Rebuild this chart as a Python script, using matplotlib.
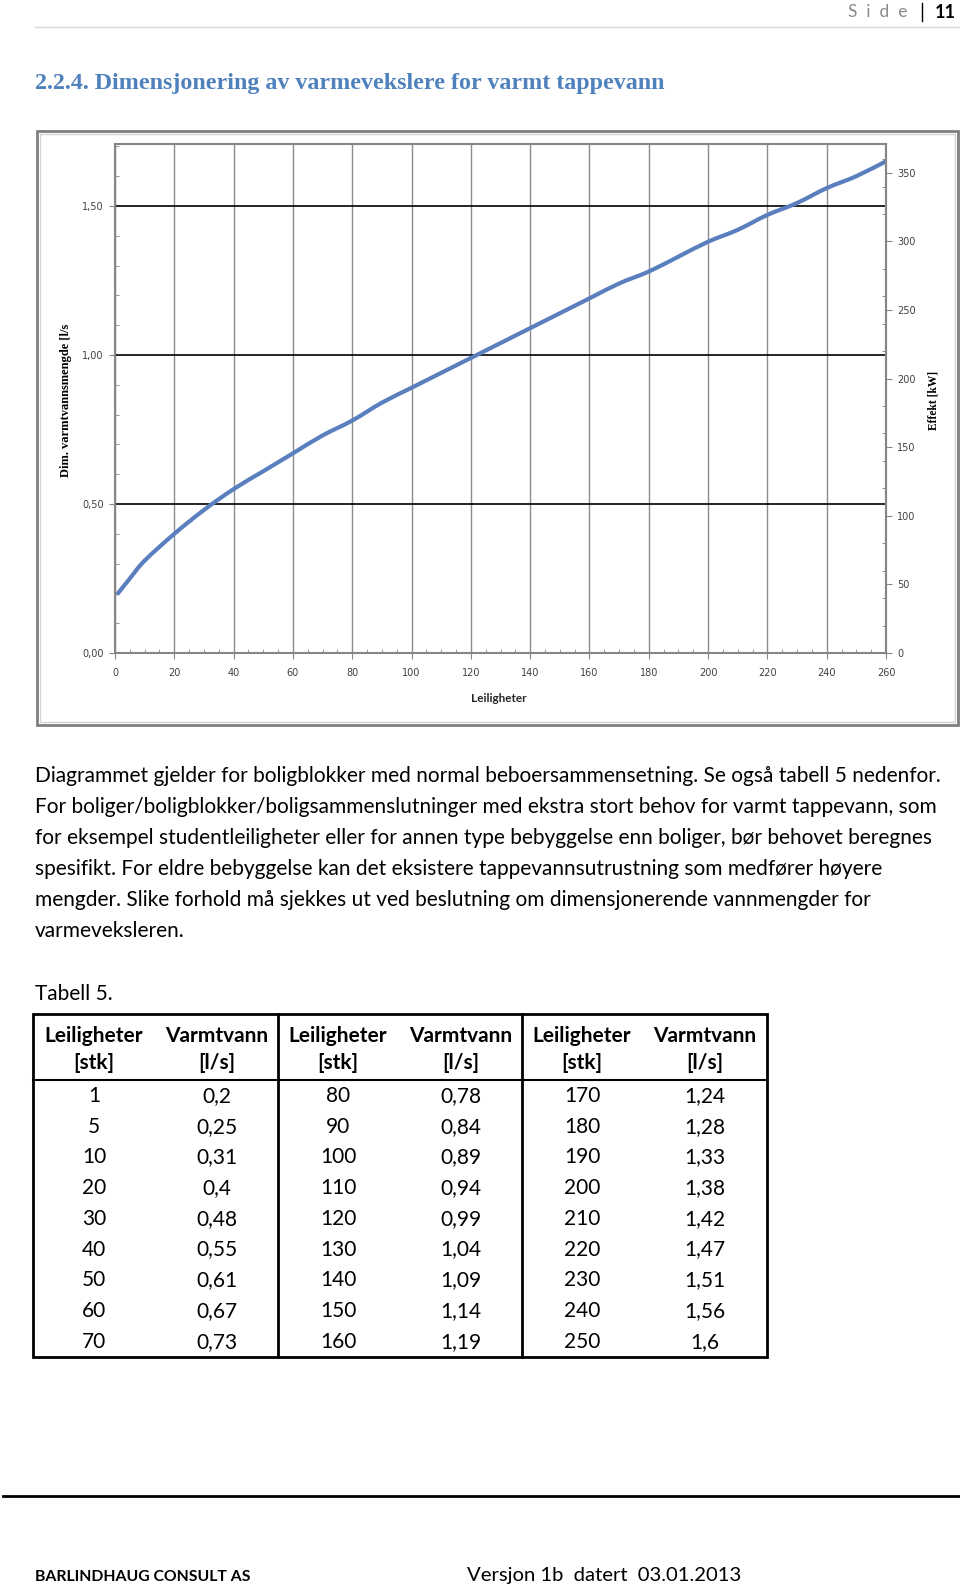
import matplotlib
matplotlib.use("Agg")
import matplotlib.pyplot as plt
from matplotlib.patches import Rectangle, PathPatch
from matplotlib.path import Path
from matplotlib.ticker import MultipleLocator, FuncFormatter

# data (Tabell 5) - chart curve follows the same values
leiligheter = [1, 5, 10, 20, 30, 40, 50, 60, 70,
               80, 90, 100, 110, 120, 130, 140, 150, 160,
               170, 180, 190, 200, 210, 220, 230, 240, 250]
varmtvann = [0.2, 0.25, 0.31, 0.4, 0.48, 0.55, 0.61, 0.67, 0.73,
             0.78, 0.84, 0.89, 0.94, 0.99, 1.04, 1.09, 1.14, 1.19,
             1.24, 1.28, 1.33, 1.38, 1.42, 1.47, 1.51, 1.56, 1.6]
# curve continues to the right edge of the plot
curve_x = leiligheter + [260]
curve_y = varmtvann + [1.65]

x_label = "Leiligheter"
y_label = "Dim. varmtvannsmengde [l/s"
y2_label = "Effekt [kW]"

title = "2.2.4. Dimensjonering av varmevekslere for varmt tappevann"
body = [
    "Diagrammet gjelder for boligblokker med normal beboersammensetning. Se også tabell 5 nedenfor.",
    "For boliger/boligblokker/boligsammenslutninger med ekstra stort behov for varmt tappevann, som",
    "for eksempel studentleiligheter eller for annen type bebyggelse enn boliger, bør behovet beregnes",
    "spesifikt. For eldre bebyggelse kan det eksistere tappevannsutrustning som medfører høyere",
    "mengder. Slike forhold må sjekkes ut ved beslutning om dimensjonerende vannmengder for",
    "varmeveksleren.",
]


def smooth_path(xs, ys):
    # Excel-style smoothed line: cubic bezier segments through the points
    pts = list(zip(xs, ys))
    verts = [pts[0]]
    codes = [Path.MOVETO]
    n = len(pts)
    for i in range(n - 1):
        p0 = pts[i - 1] if i > 0 else pts[i]
        p1 = pts[i]
        p2 = pts[i + 1]
        p3 = pts[i + 2] if i + 2 < n else pts[i + 1]
        c1 = (p1[0] + (p2[0] - p0[0]) / 6, p1[1] + (p2[1] - p0[1]) / 6)
        c2 = (p2[0] - (p3[0] - p1[0]) / 6, p2[1] - (p3[1] - p1[1]) / 6)
        verts += [c1, c2, p2]
        codes += [Path.CURVE4] * 3
    return Path(verts, codes)


W, H = 960, 1588
fig = plt.figure(figsize=(W / 100, H / 100), dpi=100)
fig.patch.set_facecolor("white")

# page overlay in pixel coordinates
page = fig.add_axes([0, 0, 1, 1])
page.set_xlim(0, W)
page.set_ylim(H, 0)
page.axis("off")

body_font = "Lato"
fs = 15
bl = 7  # baseline offset below the visual centre of a line


def line_text(x, y, s, **kw):
    kw.setdefault("fontsize", fs)
    kw.setdefault("family", body_font)
    page.text(x, y + bl, s, va="baseline", **kw)


# header
page.text(908, 12, "S  i  d  e", ha="right", va="center", fontsize=12.5,
          color="#8a8a8a", family=body_font)
page.plot([922, 922], [3, 21], color="black", lw=1)
page.text(945, 12, "11", ha="center", va="center", fontsize=13,
          fontweight="bold", family=body_font)
page.plot([35, 960], [27, 27], color="#d9d9d9", lw=1)

page.text(35, 83, title, ha="left", va="center", fontsize=17.3,
          fontweight="bold", color="#4f81bd", family="Liberation Serif")

# chart frame
page.add_patch(Rectangle((37, 131), 921, 594, fill=False, ec="#7f7f7f", lw=2))
page.add_patch(Rectangle((40, 134), 915, 588, fill=False, ec="#d4d4d4", lw=1))

# body text
for i, line in enumerate(body):
    line_text(35, 775 + i * 31, line, ha="left")
line_text(35, 993, "Tabell 5.", ha="left")

# table
tl, tr, tt, tb, th = 33, 767, 1014, 1357, 1080
page.add_patch(Rectangle((tl, tt), tr - tl, tb - tt, fill=False, ec="black", lw=2))
for xs in (277.5, 521.5):
    page.plot([xs, xs], [tt, tb], color="black", lw=2)
page.plot([tl, tr], [th, th], color="black", lw=1.5)

col_x = [94, 217, 338, 461, 582, 705]
for g in range(3):
    line_text(col_x[2 * g], 1035, "Leiligheter", ha="center", fontweight="bold")
    line_text(col_x[2 * g], 1062, "[stk]", ha="center", fontweight="bold")
    line_text(col_x[2 * g + 1], 1035, "Varmtvann", ha="center", fontweight="bold")
    line_text(col_x[2 * g + 1], 1062, "[l/s]", ha="center", fontweight="bold")
    for r in range(9):
        k = g * 9 + r
        yy = 1095 + r * 30.7
        line_text(col_x[2 * g], yy, str(leiligheter[k]), ha="center")
        line_text(col_x[2 * g + 1], yy, ("%g" % varmtvann[k]).replace(".", ","),
                  ha="center")

# footer
page.plot([3, 960], [1496, 1496], color="black", lw=2)
line_text(35, 1574, "BARLINDHAUG CONSULT AS", ha="left",
          fontsize=11.3, fontweight="bold")
line_text(467, 1574, "Versjon 1b  datert  03.01.2013", ha="left", fontsize=14.6)

# chart labels outside axes
page.text(66, 400, y_label, rotation=90, ha="center", va="center",
          fontsize=9, fontweight="bold", family="Liberation Serif")
page.text(934, 400, y2_label, rotation=90, ha="center", va="center",
          fontsize=8.3, fontweight="bold", family="Liberation Serif")
page.text(499, 698, x_label, ha="center", va="center", fontsize=8.5,
          fontweight="bold", family=body_font, color="#262626")

# chart
px0, px1, py0, py1 = 115, 886, 144, 653
ax = fig.add_axes([px0 / W, 1 - py1 / H, (px1 - px0) / W, (py1 - py0) / H])
ax.add_patch(PathPatch(smooth_path(curve_x, curve_y), fill=False,
                       ec="#5a7fbf", lw=3, capstyle="round", zorder=3))
ax.set_xlim(0, 260)
ax.set_ylim(0, 1.708)
ax.xaxis.set_major_locator(MultipleLocator(20))
ax.xaxis.set_minor_locator(MultipleLocator(5))
ax.yaxis.set_major_locator(MultipleLocator(0.5))
ax.yaxis.set_minor_locator(MultipleLocator(0.1))
ax.yaxis.set_major_formatter(FuncFormatter(lambda v, p: ("%.2f" % v).replace(".", ",")))
ax.grid(axis="x", which="major", color="#8c8c8c", lw=1)
ax.grid(axis="y", which="major", color="black", lw=1.2)
ax.set_axisbelow(True)
for s in ax.spines.values():
    s.set_color("#868686")
    s.set_linewidth(1.5)
ax.tick_params(which="major", direction="out", length=4, color="#868686",
               labelsize=7, labelcolor="#404040", pad=4)
ax.tick_params(which="minor", direction="in", length=3, color="#868686")
ax.tick_params(axis="x", pad=7)

ax2 = ax.twinx()
ax2.set_ylim(0, 371)
ax2.yaxis.set_major_locator(MultipleLocator(50))
ax2.yaxis.set_minor_locator(MultipleLocator(20))
for s in ax2.spines.values():
    s.set_visible(False)
ax2.spines["right"].set_visible(True)
ax2.spines["right"].set_color("#868686")
ax2.spines["right"].set_linewidth(1.5)
ax2.tick_params(which="major", direction="out", length=4, color="#868686",
                labelsize=7, labelcolor="#404040", pad=4)
ax2.tick_params(which="minor", direction="in", length=3, color="#868686")

fig.savefig("out.png", dpi=100)
